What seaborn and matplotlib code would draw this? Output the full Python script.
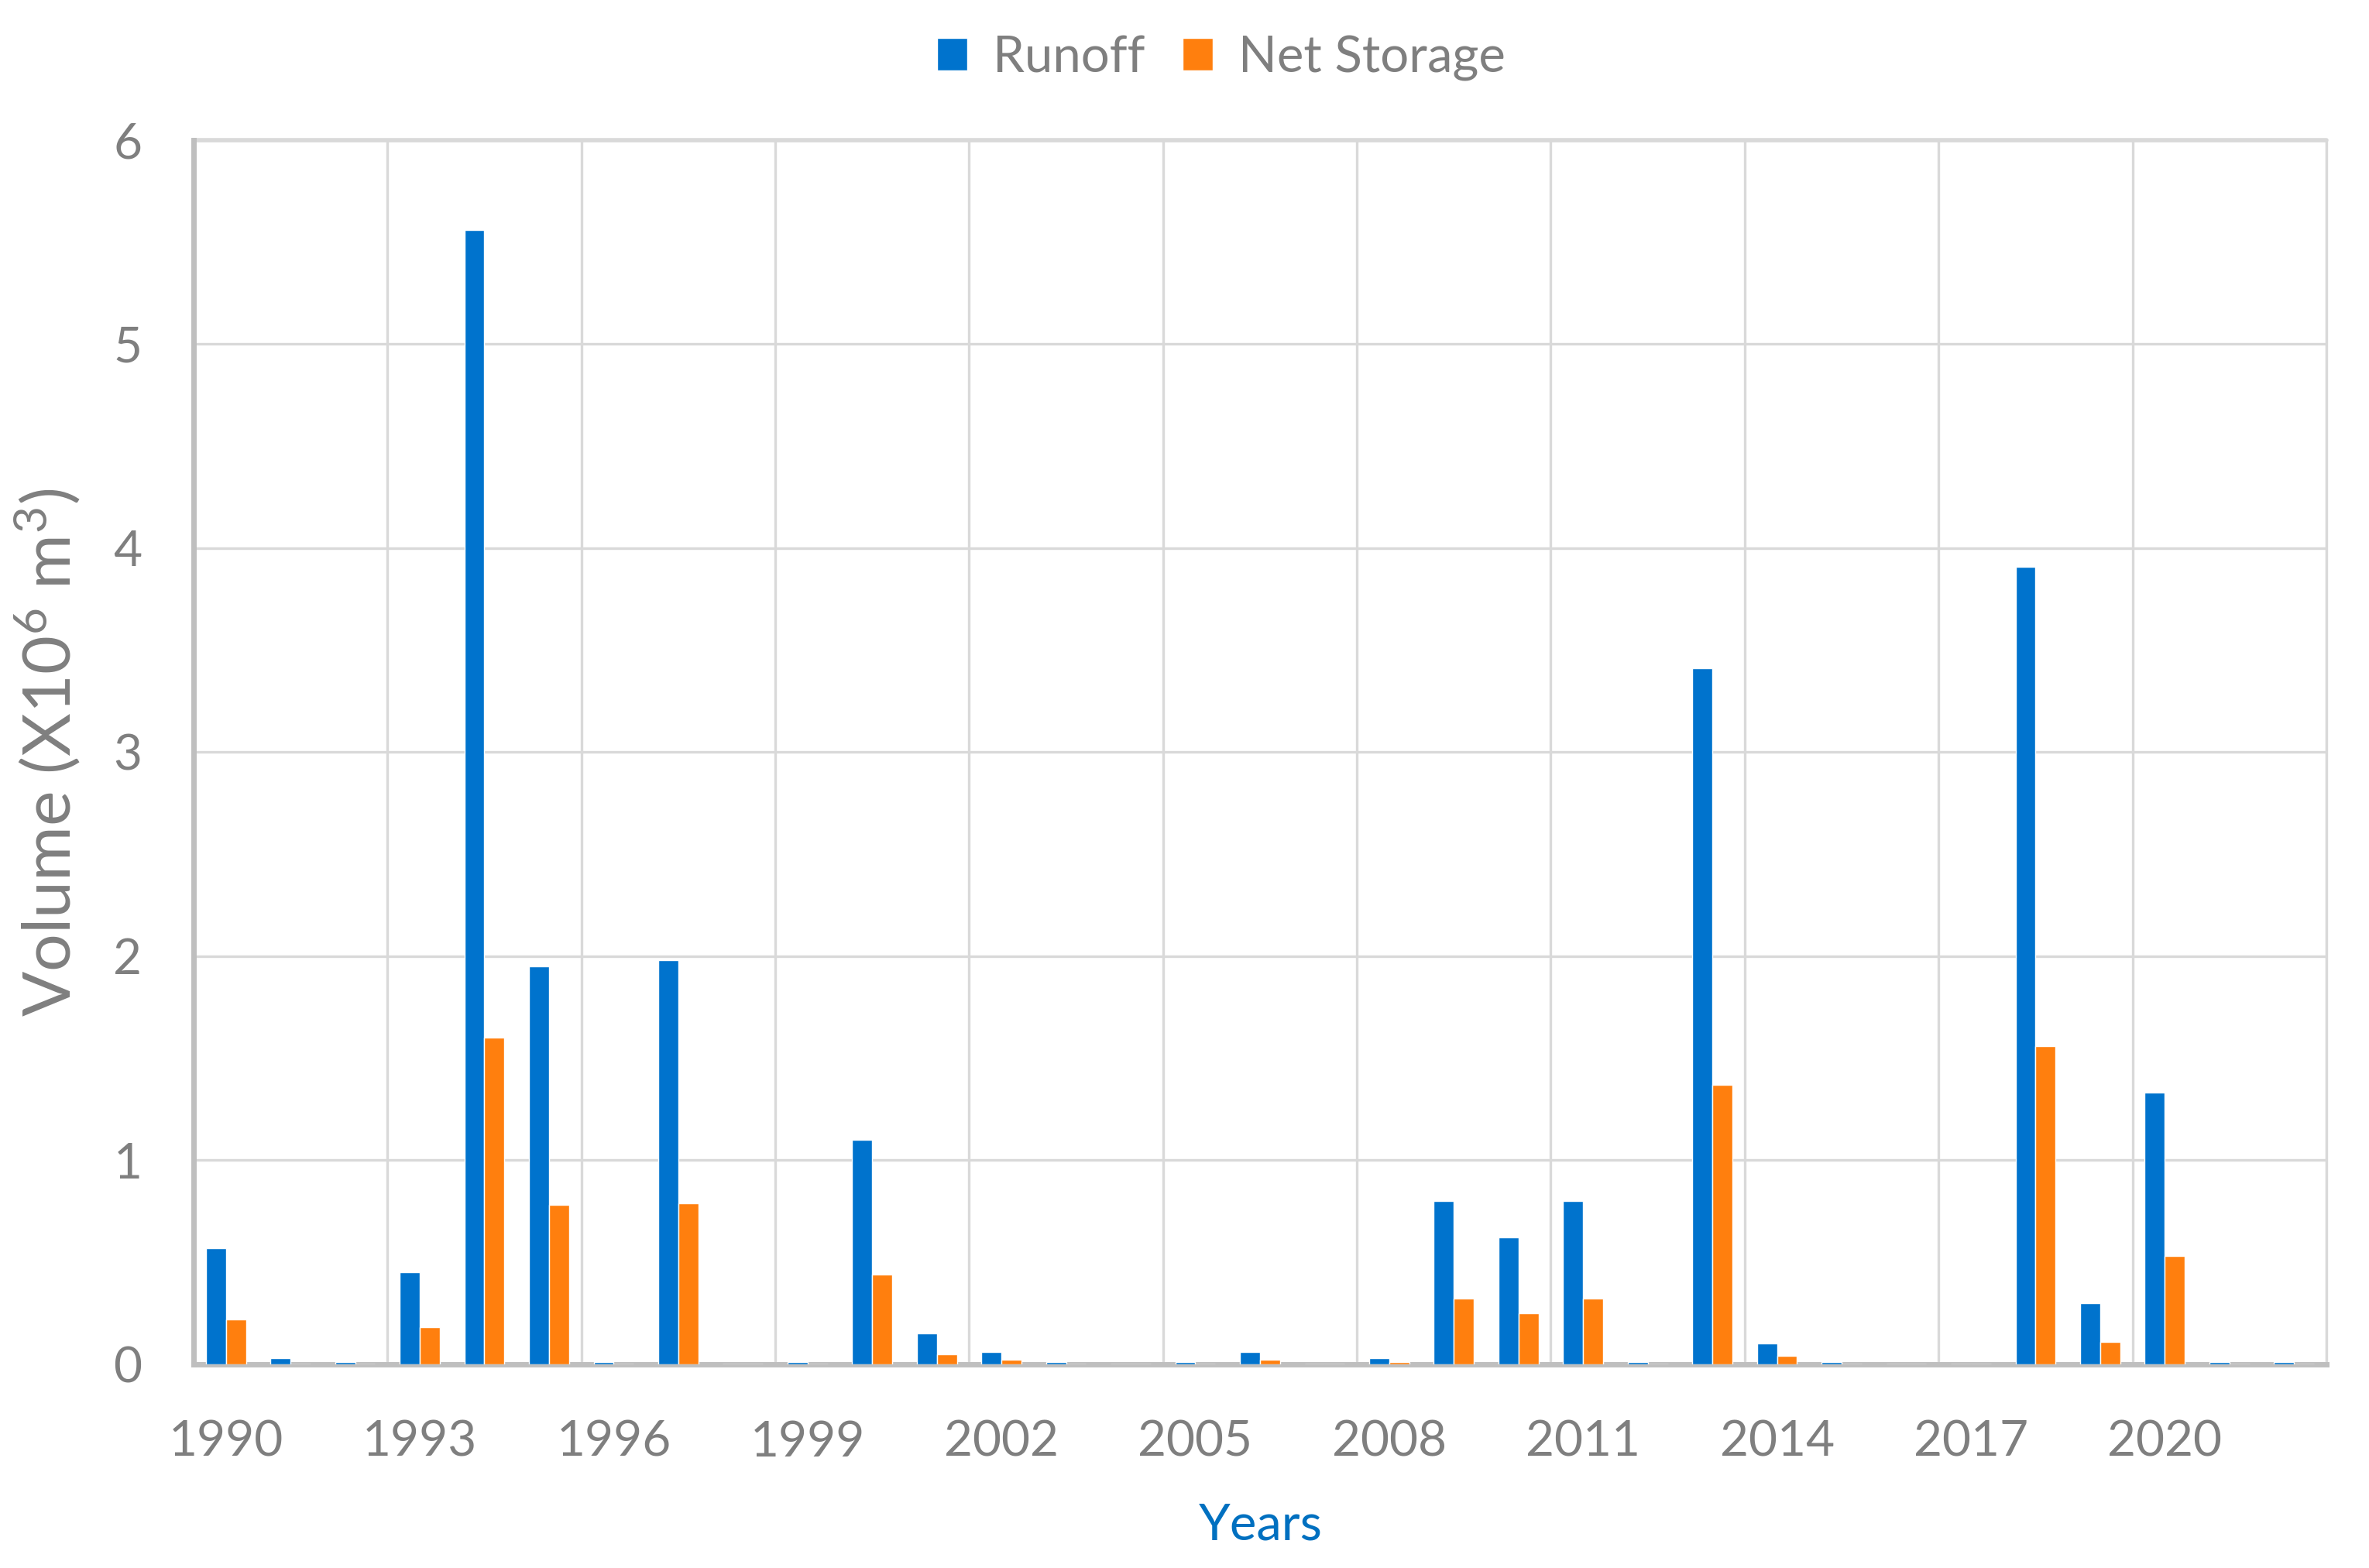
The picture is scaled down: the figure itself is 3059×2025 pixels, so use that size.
import numpy as np
import pandas as pd
import matplotlib
matplotlib.use("Agg")
import matplotlib.pyplot as plt
import seaborn as sns

years = [str(y) for y in range(1990, 2023)]
runoff = [0.57, 0.03, 0.01, 0.45, 5.56, 1.95, 0.01, 1.98, 0.0, 0.01,
          1.10, 0.15, 0.06, 0.01, 0.0, 0.01, 0.06, 0.0, 0.03, 0.80,
          0.62, 0.80, 0.01, 3.41, 0.10, 0.01, 0.0, 0.0, 3.91, 0.30,
          1.33, 0.01, 0.01]
net_storage = [0.22, 0.0, 0.0, 0.18, 1.60, 0.78, 0.0, 0.79, 0.0, 0.0,
               0.44, 0.05, 0.02, 0.0, 0.0, 0.0, 0.02, 0.0, 0.01, 0.32,
               0.25, 0.32, 0.0, 1.37, 0.04, 0.0, 0.0, 0.0, 1.56, 0.11,
               0.53, 0.0, 0.0]
series_names = ["Runoff", "Net Storage"]
colors = ["#0073CD", "#FF7F0E"]
tick_years = years[::3]

df = pd.concat([
    pd.DataFrame({"Year": years, "Volume": runoff, "Series": series_names[0]}),
    pd.DataFrame({"Year": years, "Volume": net_storage, "Series": series_names[1]}),
])

sns.set_style("white")
plt.rcParams['font.family'] = ['Lato', 'DejaVu Sans']
plt.rcParams['mathtext.fontset'] = 'custom'
plt.rcParams['mathtext.rm'] = 'Lato'
plt.rcParams['mathtext.it'] = 'Lato'

text_gray = "#7F7F7F"
grid_gray = "#D9D9D9"
axis_gray = "#BFBFBF"

fig = plt.figure(figsize=(30.59, 20.25), dpi=100)
ax = fig.add_axes([0.0817, 0.130, 0.9003, 0.7806])

sns.barplot(data=df, x="Year", y="Volume", hue="Series", order=years,
            hue_order=series_names, palette=colors, saturation=1,
            width=0.62, errorbar=None, ax=ax, zorder=3)

ax.set_xlim(-0.5, len(years) - 0.5)
ax.set_ylim(0, 6)
ax.set_yticks(range(0, 7))

ax.set_xticks(range(0, len(years), 3))
ax.set_xticklabels(tick_years)
ax.set_xticks(np.arange(-0.5, len(years), 3), minor=True)

ax.grid(False)
ax.yaxis.grid(True, color=grid_gray, linewidth=2.4, zorder=0)
ax.xaxis.grid(True, which="minor", color=grid_gray, linewidth=2.4, zorder=0)
ax.set_axisbelow(True)

for side in ["top", "right"]:
    ax.spines[side].set_visible(False)
for side in ["left", "bottom"]:
    ax.spines[side].set_color(axis_gray)
    ax.spines[side].set_linewidth(5)
ax.plot([len(years) - 0.5, len(years) - 0.5], [0, 6], color=grid_gray,
        linewidth=2.4, zorder=0, clip_on=False)
ax.axhline(6, color=grid_gray, linewidth=4, zorder=0, clip_on=False)

ax.tick_params(axis="both", which="both", length=0, labelsize=46,
               labelcolor=text_gray)
ax.tick_params(axis="x", pad=52)
ax.tick_params(axis="y", pad=48)

ax.set_xlabel("Years", fontsize=47, color="#0070C0")
ax.xaxis.set_label_coords(0.5005, -0.113)
ax.set_ylabel("Volume (X10$^{6}$ m$^{3}$)", fontsize=62, color=text_gray)
ax.yaxis.set_label_coords(-0.052, 0.5)

handles, labels = ax.get_legend_handles_labels()
ax.legend(handles, labels, loc="center", bbox_to_anchor=(0.5155, 0.963),
          bbox_transform=fig.transFigure, ncol=2, frameon=False,
          fontsize=47, labelcolor=text_gray, handlelength=0.6,
          handleheight=0.6, handletextpad=0.5, columnspacing=0.75)

fig.savefig("out.png", dpi=100)
